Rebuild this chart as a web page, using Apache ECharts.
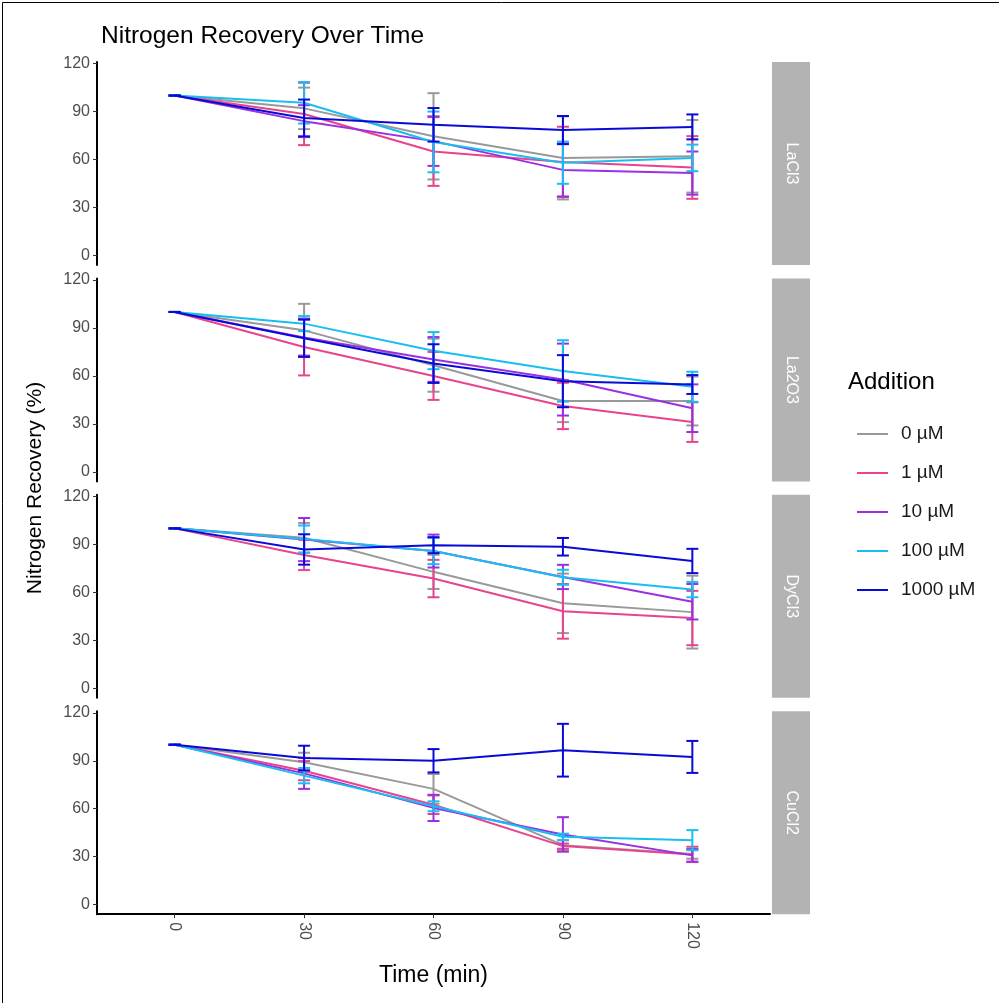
<!DOCTYPE html>
<html lang="en">
<head>
<meta charset="UTF-8">
<title>Nitrogen Recovery Over Time</title>
<script src="https://cdn.jsdelivr.net/npm/echarts@6/dist/echarts.min.js"></script>
<style>
  html, body { margin: 0; padding: 0; background: #fff; }
  #chart { width: 999px; height: 1003px; }
</style>
</head>
<body>
<div id="chart"></div>
<script>
// time points and groups
var times = [0, 30, 60, 90, 120];
var yTicks = [0, 30, 60, 90, 120];
var additions = ['0 µM', '1 µM', '10 µM', '100 µM', '1000 µM'];
var facets = ['LaCl3', 'La2O3', 'DyCl3', 'CuCl2'];

// mean recovery (%), one row per addition
var meanLaCl3 = [
  [100, 92, 74.5, 61, 62],
  [100, 88.5, 65, 58.5, 55],
  [100, 84, 71.5, 53.5, 51.5],
  [100, 95.5, 71, 58, 61],
  [100, 86, 81.7, 78.4, 80.4]
];
var errLaCl3 = [
  [0, 13, 27, 26, 22.7],
  [0, 19.5, 21.5, 22, 19.6],
  [0, 10, 15.5, 16.6, 13.5],
  [0, 13, 19, 13.2, 8.3],
  [0, 11.5, 10.5, 8.8, 7.8]
];
var meanLa2O3 = [
  [100, 88.5, 66.7, 44.3, 44.3],
  [100, 78.1, 60, 41.2, 31.1],
  [100, 84, 70.3, 57.7, 39.8],
  [100, 92.7, 75.8, 63.1, 53.2],
  [100, 83.6, 67.7, 56.7, 54.6]
];
var errLa2O3 = [
  [0, 16.6, 16.6, 13.2, 15.3],
  [0, 17.8, 15, 14.5, 12.4],
  [0, 11.3, 14, 22.5, 14.9],
  [0, 4.7, 11.6, 19.2, 9.4],
  [0, 11.7, 12.1, 16.3, 5.9]
];
var meanDyCl3 = [
  [100, 94.1, 72.8, 53.1, 47.6],
  [100, 83.4, 68.6, 48.1, 43.9],
  [100, 93, 85.8, 69.6, 54.1],
  [100, 93.3, 85.8, 69.4, 61.7],
  [100, 86.8, 89.5, 88.5, 79.6]
];
var errDyCl3 = [
  [0, 9.3, 10.7, 18.6, 22.8],
  [0, 9.5, 11.7, 17.1, 17],
  [0, 13.5, 10.3, 7.6, 11.1],
  [0, 8.5, 8.2, 4.7, 4.8],
  [0, 9.5, 5, 5.5, 7.6]
];
var meanCuCl2 = [
  [100, 89, 72.4, 37.2, 31.7],
  [100, 83.8, 62.5, 36.6, 31.4],
  [100, 82.1, 60.5, 43.9, 30.8],
  [100, 80.7, 61.5, 42.4, 40.3],
  [100, 91.7, 90, 96.6, 92.4]
];
var errCuCl2 = [
  [0, 6, 9.3, 3, 3],
  [0, 6, 5.8, 1.6, 4.8],
  [0, 9.7, 8.2, 10.8, 3.9],
  [0, 4.8, 3.1, 2, 6.3],
  [0, 7.7, 7.3, 16.5, 10]
];

var means = [meanLaCl3, meanLa2O3, meanDyCl3, meanCuCl2];
var errs = [errLaCl3, errLa2O3, errDyCl3, errCuCl2];
var colors = ['#999999', '#E8438D', '#9B30E0', '#18BEF0', '#0A0AD8'];

var font = 'Liberation Sans, Arial, sans-serif';
var panelLeft = 97, panelRight = 770, panelTop0 = 62, panelH = 203, panelStep = 216.4;

var chart = echarts.init(document.getElementById('chart'));

function renderErr(params, api) {
  var x = api.value(0);
  var lo = api.coord([x, api.value(1)]);
  var hi = api.coord([x, api.value(2)]);
  var half = 6;
  var st = { stroke: api.visual('color'), lineWidth: 2 };
  return {
    type: 'group',
    children: [
      { type: 'line', shape: { x1: lo[0], y1: lo[1], x2: hi[0], y2: hi[1] }, style: st },
      { type: 'line', shape: { x1: lo[0] - half, y1: lo[1], x2: lo[0] + half, y2: lo[1] }, style: st },
      { type: 'line', shape: { x1: hi[0] - half, y1: hi[1], x2: hi[0] + half, y2: hi[1] }, style: st }
    ]
  };
}

var grids = [], xAxes = [], yAxes = [], series = [], graphics = [];

facets.forEach(function (f, i) {
  var top = panelTop0 + i * panelStep;
  var last = i === facets.length - 1;
  grids.push({ left: panelLeft, width: panelRight - panelLeft, top: top, height: panelH });
  xAxes.push({
    gridIndex: i, type: 'value', min: -18, max: 138,
    axisLine: { show: last, onZero: false, lineStyle: { color: '#000', width: 2 } },
    axisTick: { show: last, length: 4, lineStyle: { color: '#333' }, customValues: times },
    axisLabel: {
      show: last, customValues: times, rotate: -90, fontSize: 16, color: '#4d4d4d',
      fontFamily: font, margin: 8
    },
    splitLine: { show: false },
    name: last ? 'Time (min)' : '', nameLocation: 'middle', nameGap: 50,
    nameTextStyle: { fontSize: 23, color: '#000', fontFamily: font }
  });
  yAxes.push({
    gridIndex: i, type: 'value', min: -6, max: 121,
    axisLine: { show: true, onZero: false, lineStyle: { color: '#000', width: 2 } },
    axisTick: { show: true, length: 4, lineStyle: { color: '#333' }, customValues: yTicks },
    axisLabel: { customValues: yTicks, fontSize: 16, color: '#4d4d4d', fontFamily: font, margin: 7 },
    splitLine: { show: false }
  });

  // lines
  additions.forEach(function (a, k) {
    series.push({
      name: a, type: 'line', xAxisIndex: i, yAxisIndex: i,
      data: times.map(function (t, j) { return [t, means[i][k][j]]; }),
      symbol: 'none', color: colors[k],
      lineStyle: { width: 2, color: colors[k] },
      z: 2 + k, silent: true
    });
  });
  // error bars
  additions.forEach(function (a, k) {
    series.push({
      name: a, type: 'custom', xAxisIndex: i, yAxisIndex: i,
      renderItem: renderErr, color: colors[k],
      encode: { x: 0, y: [1, 2] },
      data: times.map(function (t, j) {
        return [t, means[i][k][j] - errs[i][k][j], means[i][k][j] + errs[i][k][j]];
      }),
      z: 2 + k, silent: true
    });
  });

  // facet strip
  graphics.push({
    type: 'rect', left: panelRight + 2, top: top, z: 0,
    shape: { width: 38, height: panelH }, style: { fill: '#b3b3b3' }
  });
  graphics.push({
    type: 'text', x: panelRight + 21, y: top + panelH / 2, rotation: -Math.PI / 2,
    style: {
      text: f, fill: '#fff', fontSize: 16, fontFamily: font,
      align: 'center', verticalAlign: 'middle'
    }
  });
});

graphics.push({
  type: 'text', x: 35, y: 488, rotation: Math.PI / 2,
  style: {
    text: 'Nitrogen Recovery (%)', fill: '#000', fontSize: 21, fontFamily: font,
    align: 'center', verticalAlign: 'middle'
  }
});
graphics.push({
  type: 'text', left: 848, top: 370,
  style: { text: 'Addition', fill: '#000', fontSize: 24, fontFamily: font }
});
graphics.push({
  type: 'rect', left: 0, top: 0, z: 100, silent: true,
  shape: { width: 998, height: 1002 },
  style: { fill: 'none', stroke: '#000', lineWidth: 1 }
});

chart.setOption({
  backgroundColor: '#fff',
  animation: false,
  title: {
    text: 'Nitrogen Recovery Over Time', left: 96, top: 19,
    textStyle: { fontSize: 24.5, fontWeight: 'normal', color: '#000', fontFamily: font }
  },
  legend: {
    data: additions, orient: 'vertical', left: 852, top: 418,
    icon: 'rect', itemWidth: 31, itemHeight: 2, itemGap: 17,
    textStyle: { fontSize: 19, color: '#1a1a1a', fontFamily: font, lineHeight: 22, padding: [0, 0, 0, 8] },
    selectedMode: false
  },
  grid: grids,
  xAxis: xAxes,
  yAxis: yAxes,
  series: series,
  graphic: graphics
});
</script>
</body>
</html>
